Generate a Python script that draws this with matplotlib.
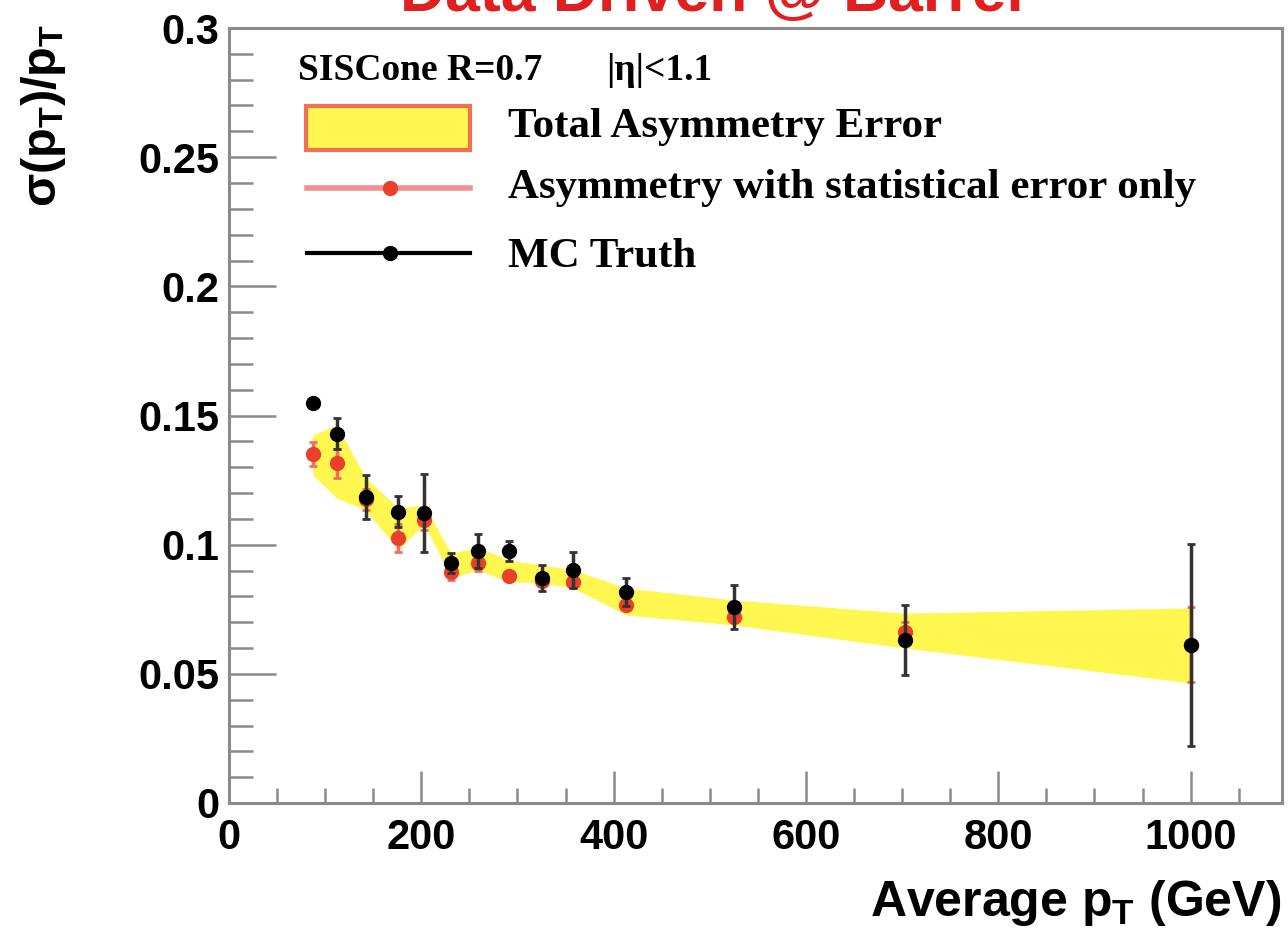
import numpy as np
import matplotlib
matplotlib.use("Agg")
import matplotlib.pyplot as plt
from matplotlib.patches import Rectangle
from matplotlib.lines import Line2D
from matplotlib.ticker import MultipleLocator

# ---------------- data ----------------
pt = [87, 112, 142, 176, 203, 231, 259, 291, 326, 358, 413, 525, 703, 1000]

mc_truth = [0.1549, 0.1429, 0.1185, 0.1127, 0.1123, 0.0929, 0.0976, 0.0976,
            0.0871, 0.0902, 0.0817, 0.0759, 0.0631, 0.0612]
mc_err = [0.002, 0.006, 0.0085, 0.006, 0.015, 0.004, 0.0066, 0.004,
          0.005, 0.007, 0.0054, 0.0085, 0.0135, 0.039]

asym = [0.1351, 0.1316, 0.1175, 0.1026, 0.1095, 0.0894, 0.0929, 0.0879,
        0.0860, 0.0855, 0.0767, 0.0720, 0.0662, 0.0612]
asym_err = [0.0048, 0.0056, 0.004, 0.0055, 0.004, 0.003, 0.003, 0.002,
            0.002, 0.002, 0.002, 0.002, 0.004, 0.0145]

band_hi = [0.1425, 0.1463, 0.1260, 0.1142, 0.1154, 0.0967, 0.0990, 0.0940,
           0.0921, 0.0902, 0.0832, 0.0786, 0.0735, 0.0755]
band_lo = [0.1270, 0.1180, 0.1134, 0.0980, 0.1080, 0.0871, 0.0902, 0.0856,
           0.0852, 0.0832, 0.0728, 0.0689, 0.0600, 0.0465]

x_ticks = [0, 200, 400, 600, 800, 1000]
y_ticks = [0, 0.05, 0.1, 0.15, 0.2, 0.25, 0.3]
y_tick_labels = ["0", "0.05", "0.1", "0.15", "0.2", "0.25", "0.3"]

legend_labels = ['Total Asymmetry Error', 'Asymmetry with statistical error only', 'MC Truth']

# ---------------- style ----------------
plt.rcParams['font.family'] = ['Liberation Sans', 'DejaVu Sans']
plt.rcParams['mathtext.fontset'] = 'custom'
plt.rcParams['mathtext.rm'] = 'Liberation Sans:bold'
plt.rcParams['mathtext.it'] = 'Liberation Sans:bold'
plt.rcParams['mathtext.bf'] = 'Liberation Sans:bold'

W, H = 1288, 941
fig = plt.figure(figsize=(W / 100, H / 100), dpi=100)
ax = fig.add_axes([229 / W, 1 - 803 / H, (1282 - 229) / W, (803 - 28) / H])

def fx(px):
    return px / W

def fy(py):
    return 1 - py / H

yellow = '#fff650'
red = '#e8402a'
frame_col = '#8a8a8a'

ax.fill_between(pt, band_lo, band_hi, color=yellow, lw=0, zorder=1)

ax.errorbar(pt, asym, yerr=asym_err, fmt='o', color=red, ms=10,
            ecolor='#f07060', elinewidth=2.5, capsize=3, capthick=2, zorder=3)
ax.errorbar(pt, mc_truth, yerr=mc_err, fmt='o', color='black', ms=10,
            ecolor='#333333', elinewidth=2.5, capsize=3, capthick=2, zorder=4)

ax.set_xlim(0, 1095)
ax.set_ylim(0, 0.3)

ax.xaxis.set_minor_locator(MultipleLocator(50))
ax.yaxis.set_minor_locator(MultipleLocator(0.01))
ax.set_xticks(x_ticks)
ax.set_yticks(y_ticks)
ax.set_yticklabels(y_tick_labels)

for s in ax.spines.values():
    s.set_color(frame_col)
    s.set_linewidth(2.2)
ax.tick_params(axis='x', which='major', direction='in', length=23, width=1.8,
               color=frame_col, top=False, pad=11)
ax.tick_params(axis='x', which='minor', direction='in', length=11, width=1.8,
               color=frame_col, top=False)
ax.tick_params(axis='y', which='major', direction='in', length=34, width=1.8,
               color=frame_col, right=False, pad=7)
ax.tick_params(axis='y', which='minor', direction='in', length=17, width=1.8,
               color=frame_col, right=False)
for lab in ax.get_xticklabels() + ax.get_yticklabels():
    lab.set_fontsize(30)
    lab.set_fontweight('bold')

# axis titles
fig.text(fx(1281), fy(903), r'Average $p_T$ (GeV)', ha='right', va='center',
         fontsize=36, fontweight='bold')
fig.text(fx(43), fy(24), r'$\sigma(p_T)/p_T$', ha='center', va='top',
         rotation=90, fontsize=35, fontweight='bold')

# title (cut at top, as in the reference)
fig.text(fx(712), fy(11), 'Data Driven @ Barrel', ha='center', va='baseline',
         fontsize=45, fontweight='bold', color='#e02020')

# annotation + manual legend
serif = ['Liberation Serif', 'DejaVu Serif']
fig.text(fx(298), fy(70), 'SISCone R=0.7', family=serif, fontweight='bold',
         fontsize=27, va='center', ha='left')
fig.text(fx(606), fy(70), '|\u03b7|<1.1', family=serif, fontweight='bold',
         fontsize=27, va='center', ha='left')

fig.patches.append(Rectangle((fx(306), fy(150)), fx(470) - fx(306), fy(106) - fy(150),
                             transform=fig.transFigure, facecolor=yellow,
                             edgecolor='#f07050', linewidth=3, figure=fig))
fig.lines.append(Line2D([fx(307), fx(470)], [fy(188), fy(188)], transform=fig.transFigure,
                        color='#f09090', lw=4, figure=fig))
fig.lines.append(Line2D([fx(390)], [fy(188)], transform=fig.transFigure, marker='o',
                        ms=10, color=red, figure=fig))
fig.lines.append(Line2D([fx(307), fx(470)], [fy(253), fy(253)], transform=fig.transFigure,
                        color='black', lw=3, figure=fig))
fig.lines.append(Line2D([fx(390)], [fy(253)], transform=fig.transFigure, marker='o',
                        ms=10, color='black', figure=fig))

for lab, yc in zip(legend_labels, [127, 188, 257]):
    fig.text(fx(508), fy(yc), lab, family=serif, fontweight='bold', fontsize=31,
             va='center', ha='left')

fig.savefig('out.png', dpi=100)
